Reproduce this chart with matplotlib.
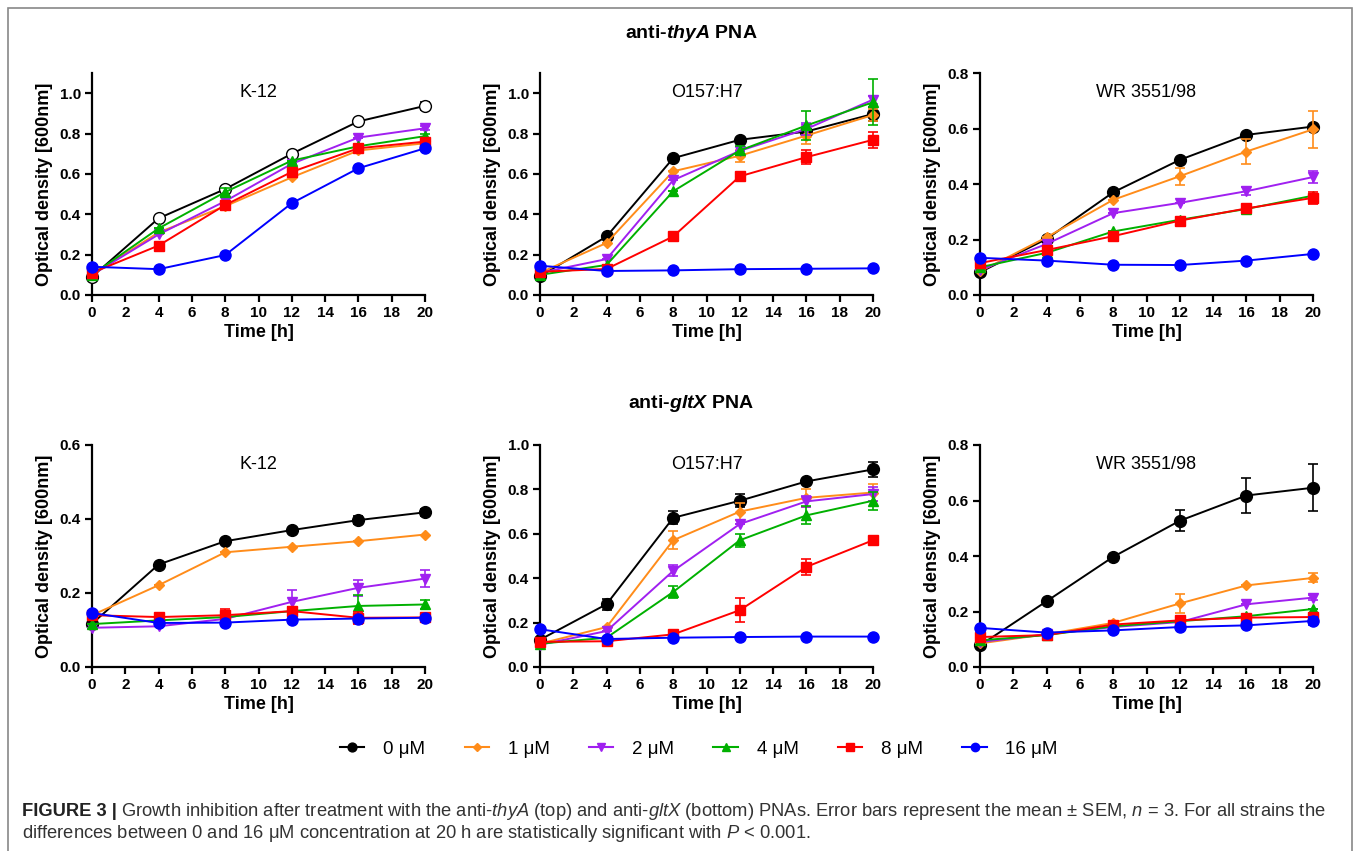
import numpy as np
import matplotlib
matplotlib.use("Agg")
import matplotlib.pyplot as plt
from matplotlib.lines import Line2D
from matplotlib.patches import Rectangle

plt.rcParams['font.family'] = ['Liberation Sans', 'DejaVu Sans']
plt.rcParams['mathtext.fontset'] = 'custom'
plt.rcParams['mathtext.rm'] = 'Liberation Sans'
plt.rcParams['mathtext.it'] = 'Liberation Sans:italic'
plt.rcParams['mathtext.bf'] = 'Liberation Sans:bold'
plt.rcParams['mathtext.bfit'] = 'Liberation Sans:italic:bold'

# time points and concentrations
time_h = [0, 4, 8, 12, 16, 20]
conc_labels = ["0 \u03bcM", "1 \u03bcM", "2 \u03bcM", "4 \u03bcM", "8 \u03bcM", "16 \u03bcM"]

# rows = 0, 1, 2, 4, 8, 16 uM
thya_k12 = [[0.09, 0.38, 0.525, 0.70, 0.86, 0.937],
            [0.10, 0.31, 0.44, 0.583, 0.716, 0.752],
            [0.10, 0.30, 0.465, 0.65, 0.78, 0.826],
            [0.10, 0.33, 0.51, 0.666, 0.737, 0.787],
            [0.11, 0.245, 0.446, 0.61, 0.727, 0.76],
            [0.14, 0.128, 0.198, 0.455, 0.628, 0.727]]
thya_k12_err = [[0, 0, 0.01, 0.01, 0.01, 0.02],
                [0, 0, 0, 0, 0, 0.01],
                [0, 0, 0, 0, 0, 0.01],
                [0, 0, 0.02, 0, 0, 0.01],
                [0, 0, 0, 0, 0, 0.01],
                [0, 0, 0, 0, 0, 0.01]]

thya_o157 = [[0.093, 0.29, 0.678, 0.769, 0.81, 0.897],
             [0.11, 0.258, 0.613, 0.69, 0.79, 0.892],
             [0.11, 0.178, 0.569, 0.714, 0.823, 0.968],
             [0.10, 0.149, 0.514, 0.716, 0.84, 0.955],
             [0.115, 0.129, 0.29, 0.588, 0.683, 0.769],
             [0.145, 0.119, 0.122, 0.128, 0.13, 0.132]]
thya_o157_err = [[0, 0, 0, 0, 0.02, 0.035],
                 [0, 0, 0, 0.03, 0.04, 0.03],
                 [0, 0, 0, 0, 0.03, 0.02],
                 [0, 0, 0, 0.02, 0.07, 0.115],
                 [0, 0, 0, 0, 0.035, 0.04],
                 [0, 0, 0, 0, 0, 0]]

thya_wr = [[0.082, 0.202, 0.37, 0.487, 0.577, 0.607],
           [0.085, 0.208, 0.343, 0.428, 0.517, 0.597],
           [0.09, 0.184, 0.295, 0.332, 0.374, 0.425],
           [0.10, 0.152, 0.229, 0.271, 0.31, 0.358],
           [0.115, 0.162, 0.212, 0.268, 0.312, 0.35],
           [0.134, 0.124, 0.109, 0.108, 0.124, 0.148]]
thya_wr_err = [[0, 0, 0, 0, 0, 0],
               [0, 0, 0, 0.03, 0.045, 0.067],
               [0, 0, 0, 0, 0.015, 0.022],
               [0, 0, 0, 0, 0, 0],
               [0, 0, 0, 0, 0.012, 0.022],
               [0, 0, 0, 0, 0, 0]]

gltx_k12 = [[0.117, 0.277, 0.34, 0.37, 0.397, 0.418],
            [0.14, 0.221, 0.31, 0.325, 0.34, 0.358],
            [0.106, 0.11, 0.13, 0.176, 0.214, 0.239],
            [0.116, 0.126, 0.135, 0.151, 0.165, 0.169],
            [0.14, 0.135, 0.14, 0.151, 0.133, 0.134],
            [0.146, 0.119, 0.12, 0.128, 0.131, 0.133]]
gltx_k12_err = [[0, 0, 0, 0, 0.01, 0.01],
                [0, 0, 0, 0, 0, 0],
                [0, 0, 0, 0.033, 0.022, 0.022],
                [0, 0, 0, 0.01, 0.03, 0.012],
                [0, 0, 0.016, 0.012, 0.016, 0.01],
                [0, 0, 0, 0, 0, 0]]

gltx_o157 = [[0.123, 0.283, 0.672, 0.749, 0.836, 0.89],
             [0.105, 0.18, 0.571, 0.70, 0.762, 0.786],
             [0.10, 0.162, 0.433, 0.644, 0.746, 0.779],
             [0.105, 0.132, 0.338, 0.571, 0.683, 0.749],
             [0.113, 0.116, 0.147, 0.256, 0.451, 0.571],
             [0.17, 0.126, 0.132, 0.135, 0.137, 0.137]]
gltx_o157_err = [[0, 0.025, 0.03, 0.03, 0, 0.035],
                 [0, 0, 0.04, 0.04, 0.04, 0.04],
                 [0, 0, 0.025, 0, 0.025, 0.03],
                 [0, 0, 0.025, 0.03, 0.04, 0.04],
                 [0, 0, 0, 0.055, 0.035, 0],
                 [0, 0, 0, 0, 0, 0]]

gltx_wr = [[0.078, 0.237, 0.397, 0.527, 0.618, 0.646],
           [0.085, 0.118, 0.159, 0.229, 0.294, 0.321],
           [0.09, 0.118, 0.144, 0.162, 0.226, 0.25],
           [0.096, 0.115, 0.147, 0.165, 0.183, 0.209],
           [0.108, 0.115, 0.153, 0.168, 0.178, 0.18],
           [0.141, 0.124, 0.132, 0.144, 0.15, 0.166]]
gltx_wr_err = [[0, 0, 0, 0.037, 0.063, 0.085],
               [0, 0, 0, 0.035, 0, 0.016],
               [0, 0, 0, 0, 0, 0.01],
               [0, 0, 0, 0, 0, 0],
               [0, 0, 0, 0, 0, 0],
               [0, 0, 0, 0, 0, 0.015]]

strains = ["K-12", "O157:H7", "WR 3551/98"]
top_panels = [thya_k12, thya_o157, thya_wr]
top_errs = [thya_k12_err, thya_o157_err, thya_wr_err]
bot_panels = [gltx_k12, gltx_o157, gltx_wr]
bot_errs = [gltx_k12_err, gltx_o157_err, gltx_wr_err]
top_ylim = [1.1, 1.1, 0.8]
bot_ylim = [0.6, 1.0, 0.8]

colors = ["black", "#ff8c1a", "#a020f0", "#00b000", "#ff0000", "#0000ff"]
markers = ["o", "D", "v", "^", "s", "o"]
msizes = [8.5, 5.5, 7.5, 7.5, 7.5, 8]

W, H = 1358, 851
fig = plt.figure(figsize=(W / 100, H / 100), dpi=100)

lefts = [92, 540, 980]
pw, ph = 333, 222
bottoms = [295, 667]


def draw_panel(ax, vals, errs, ymax, strain, open_zero=False):
    for i in range(6):
        mfc = "white" if (open_zero and i == 0) else colors[i]
        cont = ax.errorbar(time_h, vals[i], yerr=errs[i], color=colors[i],
                           marker=markers[i], ms=msizes[i], mfc=mfc,
                           mec=colors[i], lw=1.4, elinewidth=1.2,
                           capsize=3.5, capthick=1.2, zorder=3 + i)
        for art in cont.get_children():
            art.set_clip_on(False)
    ax.set_xlim(0, 20)
    ax.set_ylim(0, ymax)
    ax.set_xticks(range(0, 21, 2))
    ax.set_yticks(np.arange(0, ymax + 0.001, 0.2))
    ax.yaxis.set_major_formatter("{x:.1f}")
    ax.spines["top"].set_visible(False)
    ax.spines["right"].set_visible(False)
    ax.spines["left"].set_linewidth(1.6)
    ax.spines["bottom"].set_linewidth(1.6)
    ax.tick_params(direction="out", length=5, width=1.6, labelsize=11, pad=3)
    for lbl in ax.get_xticklabels() + ax.get_yticklabels():
        lbl.set_fontweight("bold")
    ax.set_xlabel("Time [h]", fontweight="bold", fontsize=13, labelpad=3)
    ax.set_ylabel("Optical density [600nm]", fontweight="bold", fontsize=13, labelpad=5)
    ax.text(0.5, 0.91, strain, transform=ax.transAxes, ha="center", va="center",
            fontsize=13)


for row in range(2):
    for col in range(3):
        ax = fig.add_axes([lefts[col] / W, (H - bottoms[row]) / H, pw / W, ph / H])
        if row == 0:
            draw_panel(ax, top_panels[col], top_errs[col], top_ylim[col],
                       strains[col], open_zero=(col == 0))
        else:
            draw_panel(ax, bot_panels[col], bot_errs[col], bot_ylim[col], strains[col])

fig.text(691 / W, 1 - 33 / H, r"anti-$\mathbfit{thyA}$ PNA", ha="center", va="center",
         fontsize=14, fontweight="bold")
fig.text(691 / W, 1 - 404 / H, r"anti-$\mathbfit{gltX}$ PNA", ha="center", va="center",
         fontsize=14, fontweight="bold")

# legend
handles = [Line2D([0], [0], color=colors[i], marker=markers[i], ms=msizes[i] * 0.75,
                  lw=1.5) for i in range(6)]
fig.legend(handles, conc_labels, loc="center", bbox_to_anchor=(699 / W, 1 - 749 / H),
           ncol=6, frameon=False, fontsize=13.5, columnspacing=2.1, handlelength=1.3,
           handletextpad=1.0)

# caption
cap_y1 = 1 - 812 / H
cap_y2 = 1 - 833 / H
t = fig.text(22 / W, cap_y1, "FIGURE 3 |", fontsize=13.2, fontweight="bold",
             color="#222222", va="center")
bb = t.get_window_extent(renderer=fig.canvas.get_renderer())
fig.text(bb.x1 / W + 4 / W, cap_y1,
         r"Growth inhibition after treatment with the anti-$\mathit{thyA}$ (top) and anti-$\mathit{gltX}$ "
         r"(bottom) PNAs. Error bars represent the mean $\pm$ SEM, $n$ = 3. For all strains the",
         fontsize=13.2, color="#333333", va="center")
fig.text(22 / W, cap_y2,
         "differences between 0 and 16 \u03bcM concentration at 20 h are statistically significant with $P$ < 0.001.",
         fontsize=13.2, color="#333333", va="center")

# frame around the figure
fig.patches.append(Rectangle((8 / W, -0.05), (1352 - 8) / W, 1.05 - 8 / H,
                             transform=fig.transFigure, fill=False, ec="#888888",
                             lw=1.2, clip_on=False))

fig.savefig("out.png", dpi=100)
